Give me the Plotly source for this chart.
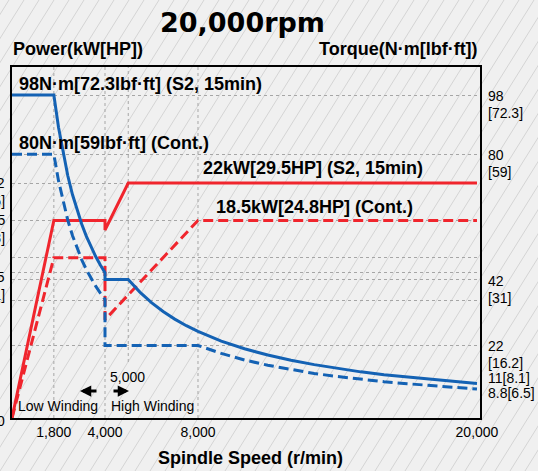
import plotly.graph_objects as go

# ---------------- data ----------------
SPEED_TQ_S2 = [0, 1800, 2000, 2200, 2400, 2600, 2800, 3000, 3200, 3400, 3600, 3800, 4000, 4000, 5000,
               5500, 6000, 6500, 7000, 7500, 8000, 9000, 10000, 11000, 12000, 13000, 14000, 15000,
               16000, 17000, 18000, 19000, 20000]
TORQUE_S2 = [98, 98, 88.2, 80.2, 73.5, 67.8, 63.0, 58.8, 55.1, 51.9, 49.0, 46.4, 44.1, 42, 42,
             38.2, 35.0, 32.3, 30.0, 28.0, 26.3, 23.3, 21.0, 19.1, 17.5, 16.2, 15.0, 14.0,
             13.1, 12.4, 11.7, 11.1, 10.5]

SPEED_TQ_CONT = [0, 1800, 2000, 2200, 2400, 2600, 2800, 3000, 3200, 3400, 3600, 3800, 4000, 4000,
                 8000, 9000, 10000, 11000, 12000, 13000, 14000, 15000, 16000, 17000, 18000, 19000, 20000]
TORQUE_CONT = [80, 80, 72.0, 65.5, 60.0, 55.4, 51.4, 48.0, 45.0, 42.4, 40.0, 37.9, 36.0, 22,
               22, 19.6, 17.6, 16.0, 14.7, 13.5, 12.6, 11.7, 11.0, 10.4, 9.8, 9.3, 8.8]

SPEED_PW_S2 = [0, 1800, 4000, 4000, 5000, 20000]
POWER_S2 = [0, 18.5, 18.5, 17.6, 22, 22]

SPEED_PW_CONT = [0, 1800, 4000, 4000, 8000, 20000]
POWER_CONT = [0, 15, 15, 9.2, 18.5, 18.5]

X_TICKS = [1800, 4000, 8000, 20000]
X_TICK_TEXT = ["1,800", "4,000", "8,000", "20,000"]
X_GRID = [1800, 4000, 8000]
X_GRID_SHORT = [5000]
POWER_GRID = [15, 18.5, 22]
TORQUE_GRID = [22, 35.8, 42, 44.2, 80, 98]

TORQUE_LABELS = [("98", 98), ("80", 80), ("42", 42), ("22", 22)]
TORQUE_LABELS_LBF = [("[72.3]", 98), ("[59]", 80), ("[31]", 42), ("[16.2]", 22)]
END_LABELS = [("11[8.1]", 11), ("8.8[6.5]", 8.8)]
POWER_LABELS = [("22", 22), ("18.5", 18.5), ("15", 15)]
POWER_LABELS_HP = [("[29.5]", 22), ("[24.8]", 18.5), ("[20.1]", 15)]

BLUE = "#1462b4"
RED = "#f0252d"

# ---------------- geometry helpers ----------------
W, H = 538, 471
L, R, T, B = 12, 58, 67, 53
PW, PH = W - L - R, H - T - B
X_MAX = 20130
P_MAX = 32.86
T_MAX = 106.5


def xp(px):
    return (px - L) / PW


def yp(py):
    return (H - B - py) / PH


def ypx_power(v):
    return H - B - v / P_MAX * PH


def ypx_torque(v):
    return H - B - v / T_MAX * PH


fig = go.Figure()

fig.add_trace(go.Scatter(x=SPEED_PW_S2, y=POWER_S2, mode="lines",
                         line=dict(color=RED, width=3), yaxis="y"))
fig.add_trace(go.Scatter(x=SPEED_PW_CONT, y=POWER_CONT, mode="lines",
                         line=dict(color=RED, width=3, dash="10px,5px"), yaxis="y"))
fig.add_trace(go.Scatter(x=SPEED_TQ_S2, y=TORQUE_S2, mode="lines",
                         line=dict(color=BLUE, width=3), yaxis="y2"))
fig.add_trace(go.Scatter(x=SPEED_TQ_CONT, y=TORQUE_CONT, mode="lines",
                         line=dict(color=BLUE, width=3, dash="10px,5px"), yaxis="y2"))

# background hatch
segs = []
for k in range(-25, 40):
    x0 = k * 15
    segs.append(f"M{xp(x0):.5f},{yp(H):.5f} L{xp(x0 + 294):.5f},{yp(0):.5f}")
shapes = [dict(type="path", xref="paper", yref="paper", path=" ".join(segs),
               line=dict(color="#d4d4d4", width=1), layer="below")]

GRID_LINE = dict(color="#a6a6a6", width=1, dash="dot")
for g in X_GRID:
    shapes.append(dict(type="line", xref="x", yref="paper", x0=g, x1=g, y0=0, y1=1,
                       line=GRID_LINE, layer="below"))
for g in X_GRID_SHORT:
    shapes.append(dict(type="line", xref="x", yref="paper", x0=g, x1=g, y0=yp(362), y1=1,
                       line=GRID_LINE, layer="below"))

FONT = "Liberation Sans, Arial, sans-serif"
ann = []


def txt(text, x, y, size=14, bold=False, xa="left", ya="middle", family=FONT):
    t = f"<b>{text}</b>" if bold else text
    ann.append(dict(text=t, x=xp(x), y=yp(y), xref="paper", yref="paper", showarrow=False,
                    xanchor=xa, yanchor=ya, font=dict(family=family, size=size, color="black"),
                    borderpad=0))


txt("20,000rpm", 242, 22, size=27, bold=True, xa="center", family="DejaVu Sans, sans-serif")
txt("Power(kW[HP])", 12, 49, size=18, bold=True)
txt("Torque(N·m[lbf·ft])", 479, 49, size=18, bold=True, xa="right")
txt("98N·m[72.3lbf·ft] (S2, 15min)", 18, 84, size=18, bold=True)
txt("80N·m[59lbf·ft] (Cont.)", 18, 143, size=18, bold=True)
txt("22kW[29.5HP] (S2, 15min)", 202, 168, size=18, bold=True)
txt("18.5kW[24.8HP] (Cont.)", 215, 207, size=18, bold=True)
txt("Spindle Speed (r/min)", 251, 458, size=18, bold=True, xa="center")
txt("Low Winding", 17, 406, size=14)
txt("High Winding", 110, 406, size=14)
txt("5,000", 127.5, 377, size=14, xa="center")

for s, v in TORQUE_LABELS:
    txt(s, 487, ypx_torque(v) + 1, size=14)
for s, v in TORQUE_LABELS_LBF:
    txt(s, 487, ypx_torque(v) + 18, size=14)
txt(END_LABELS[0][0], 487, 378, size=14)
txt(END_LABELS[1][0], 487, 393, size=14)

for s, v in POWER_LABELS:
    off = 19 if v == 15 else 0
    txt(s, 6, ypx_power(v) + off, size=14, xa="right")
for s, v in POWER_LABELS_HP:
    off = 19 if v == 15 else 0
    txt(s, 6, ypx_power(v) + 18 + off, size=14, xa="right")
txt("0", 6, 421, size=14, xa="right")

# winding arrows
ann.append(dict(x=xp(80), y=yp(391), xref="paper", yref="paper", ax=18, ay=0,
                showarrow=True, arrowhead=2, arrowsize=0.75, arrowwidth=3, arrowcolor="black", text=""))
ann.append(dict(x=xp(129), y=yp(391), xref="paper", yref="paper", ax=-17, ay=0,
                showarrow=True, arrowhead=2, arrowsize=0.75, arrowwidth=3, arrowcolor="black", text=""))

fig.update_layout(
    width=W, height=H,
    margin=dict(l=L, r=R, t=T, b=B, pad=0),
    paper_bgcolor="#f0f0f0",
    plot_bgcolor="rgba(0,0,0,0)",
    showlegend=False,
    shapes=shapes,
    annotations=ann,
    font=dict(family=FONT, size=14, color="black"),
    xaxis=dict(range=[0, X_MAX], tickvals=X_TICKS, ticktext=X_TICK_TEXT, showgrid=False,
               zeroline=False, showline=True, linecolor="black", linewidth=2, mirror=True,
               ticks="", tickfont=dict(size=14, family=FONT)),
    yaxis=dict(range=[0, P_MAX], tickvals=POWER_GRID, showticklabels=False, showgrid=True,
               gridcolor="#a6a6a6", griddash="dot", gridwidth=1, zeroline=False,
               showline=True, linecolor="black", linewidth=2, mirror=True, ticks=""),
    yaxis2=dict(range=[0, T_MAX], tickvals=TORQUE_GRID, showticklabels=False, showgrid=True,
                gridcolor="#a6a6a6", griddash="dot", gridwidth=1, zeroline=False,
                overlaying="y", side="right", showline=False, ticks=""),
)

fig.write_html(
    "out.html",
    config={"displayModeBar": False},
    post_script="document.body.style.margin='0';document.body.style.overflow='hidden';",
)
